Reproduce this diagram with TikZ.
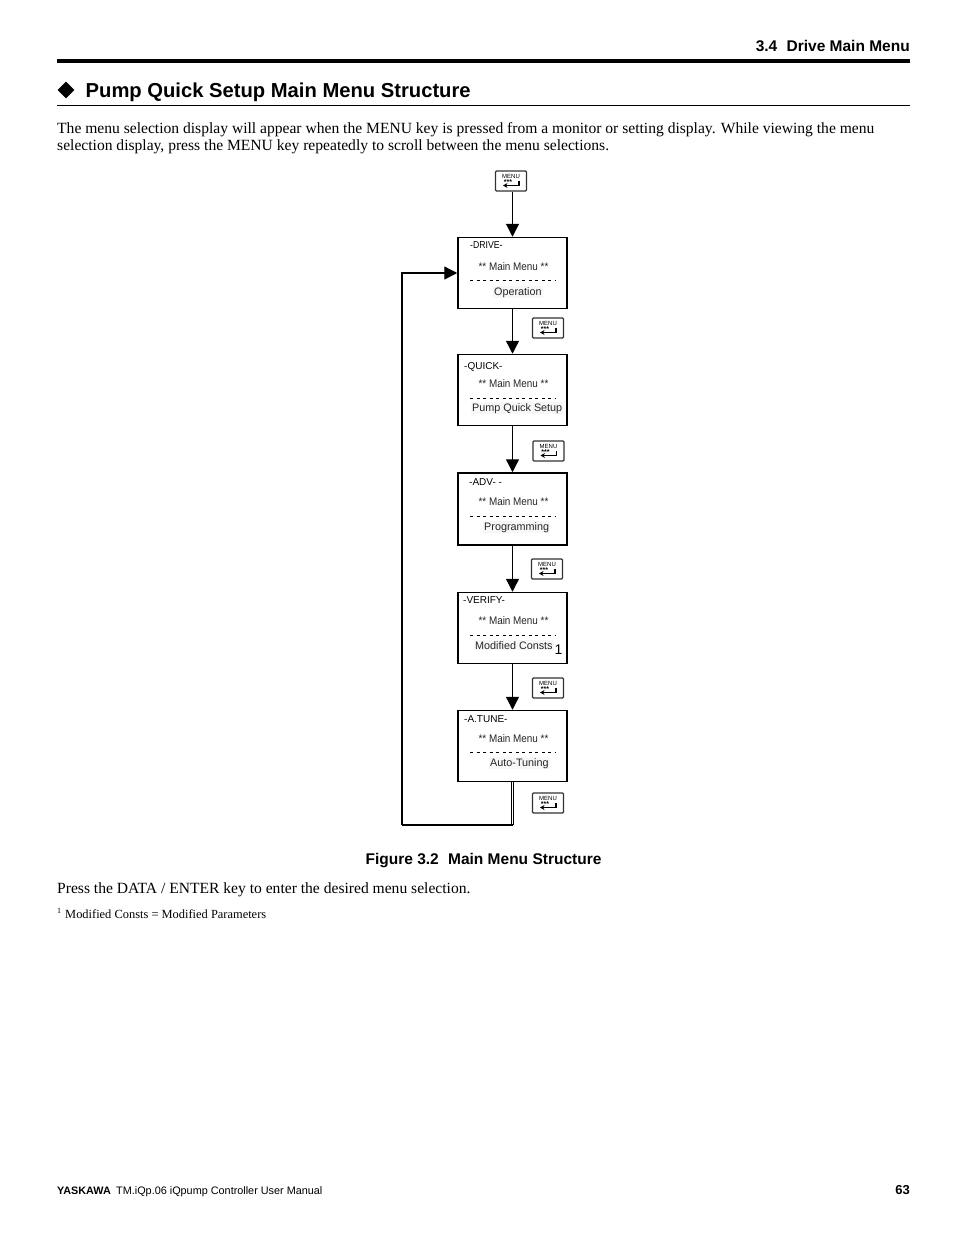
\documentclass[tikz,border=0pt]{standalone}
\usepackage{fontspec}
\setmainfont{Liberation Serif}
\setsansfont{Liberation Sans}
\usetikzlibrary{arrows.meta,shapes.geometric}
\tikzset{
  screen/.style={draw, line width=1.5pt, minimum width=109pt, minimum height=71pt, inner sep=0pt},
  keybox/.style={draw=black!80, line width=1.2pt, rounded corners=1pt, minimum width=31pt, minimum height=20pt, inner sep=0pt},
  keytext/.style={font=\sffamily\fontsize{6}{6}\selectfont, inner sep=0pt},
  flow/.style={line width=1.3pt, -{Triangle[length=13pt,width=13pt]}},
  back/.style={line width=1.3pt},
  mode/.style={font=\sffamily\fontsize{10}{10}\selectfont, anchor=base west, inner sep=0pt},
  item/.style={font=\sffamily\fontsize{10.8}{10.8}\selectfont, text=black!85, anchor=base west, inner sep=1pt, fill=black!3},
  banner/.style={font=\sffamily\fontsize{11}{11}\selectfont, text=black!85, transform shape, xscale=.9, inner sep=0pt},
  para/.style={font=\fontsize{15.58}{15.58}\selectfont, anchor=base west, inner sep=0pt},
  bold/.style={font=\sffamily\bfseries\fontsize{15.5}{15.5}\selectfont, inner sep=0pt}
}
\newcommand{\menukey}[3]{
  \node (#1) [keybox] at (#2,#3) {};
  \node (#1t) [keytext] at (#2,#3-5) {MENU};
  \node (#1s) [keytext, font=\sffamily\bfseries\fontsize{7}{7}\selectfont] at (#2-3,#3+1.5) {***};
  \draw[line width=1.2pt, -{Stealth[length=4.5pt,width=5pt]}] (#2+8,#3) -- (#2+8,#3+4.5) -- (#2-8,#3+4.5);
}
\begin{document}
\begin{tikzpicture}[x=1pt, y=-1pt, node distance=118pt]
    \useasboundingbox (0,0) rectangle (954,1235);

    \node (header) [bold, anchor=base east] at (910,51) {3.4\hspace{.6em}Drive Main Menu};
    \draw[line width=4pt] (57,61) -- (910,61);
    \node (bullet) [diamond, fill, minimum width=17pt, minimum height=17pt, inner sep=0pt] at (66,90) {};
    \node (title) [bold, font=\sffamily\bfseries\fontsize{20.2}{20.2}\selectfont, anchor=base west] at (85.5,97) {Pump Quick Setup Main Menu Structure};
    \draw[line width=.7pt] (57,105) -- (910,105);
    \node (introa) [para] at (57,133) {The menu selection display will appear when the MENU key is pressed from a monitor or setting display. While viewing the menu};
    \node (introb) [para] at (57,150) {selection display, press the MENU key repeatedly to scroll between the menu selections.};

    \node (drive) [screen] at (512.5,273) {};
    \node (quick) [screen, below of=drive, node distance=117pt] {};
    \node (adv) [screen, below of=quick, node distance=119pt, minimum height=72pt] {};
    \node (verify) [screen, below of=adv, node distance=119pt] {};
    \node (atune) [screen, below of=verify] {};

    \node (drivem) [mode, transform shape, xscale=.87] at (470,248) {-DRIVE-};
    \node (quickm) [mode] at (464,369) {-QUICK-};
    \node (advm) [mode] at (469,485) {-ADV- -};
    \node (verifym) [mode] at (463,603) {-VERIFY-};
    \node (atunem) [mode] at (464,722) {-A.TUNE-};

    \foreach \name/\ypos in {drive/267,quick/384,adv/502,verify/621,atune/739}
      \node (\name b) [banner] at (513.5,\ypos) {** Main Menu **};

    \foreach \ypos in {280,398,516,635,752}
      \draw[line width=.7pt, dash pattern=on 3pt off 3.5pt] (470,\ypos) -- (556,\ypos);

    \node (drivei) [item] at (493,295) {Operation};
    \node (quicki) [item] at (471,411) {Pump Quick Setup};
    \node (advi) [item] at (483,530) {Programming};
    \node (verifyi) [item] at (474,649) {Modified Consts};
    \node (atunei) [item] at (489,766) {Auto-Tuning};
    \node (verifyn) [font=\sffamily\fontsize{14}{14}\selectfont, anchor=base, inner sep=0pt] at (558.5,654) {1};

    \menukey{keytop}{511}{181}
    \menukey{keydrive}{548}{328}
    \menukey{keyquick}{548.5}{451}
    \menukey{keyadv}{547}{569}
    \menukey{keyverify}{548}{688}
    \menukey{keyatune}{548}{803}

    \draw[flow] (keytop.south -| drive.north) to (drive.north);
    \draw[flow] (drive) to (quick);
    \draw[flow] (quick) to (adv);
    \draw[flow] (adv) to (verify);
    \draw[flow] (verify) to (atune);

    \coordinate (loopa) at (513,825);
    \coordinate (loopb) at (402,825);
    \draw[line width=.7pt, double, double distance=1.2pt] (atune.south) to (atune.south |- loopa);
    \draw[back] (atune.south |- loopa) to (loopb);
    \draw[flow] (loopb) |- (drive.west);

    \node (caption) [bold, anchor=base] at (483.5,864) {Figure 3.2\hspace{.6em}Main Menu Structure};
    \node (press) [para] at (57,893) {Press the DATA / ENTER key to enter the desired menu selection.};
    \node (notemark) [font=\fontsize{8}{8}\selectfont, anchor=base west, inner sep=0pt] at (57,913) {1};
    \node (note) [font=\fontsize{12.43}{12.43}\selectfont, anchor=base west, inner sep=0pt] at (65,918) {Modified Consts = Modified Parameters};

    \node (brand) [font=\sffamily\bfseries\fontsize{10.8}{10.8}\selectfont, anchor=base west, inner sep=0pt] at (57,1194) {YASKAWA};
    \node (manual) [font=\sffamily\fontsize{10.85}{10.85}\selectfont, anchor=base west, inner sep=0pt] at (116,1194) {TM.iQp.06 iQpump Controller User Manual};
    \node (page) [bold, font=\sffamily\bfseries\fontsize{13}{13}\selectfont, anchor=base east] at (910,1194) {63};
  \end{tikzpicture}
\end{document}
